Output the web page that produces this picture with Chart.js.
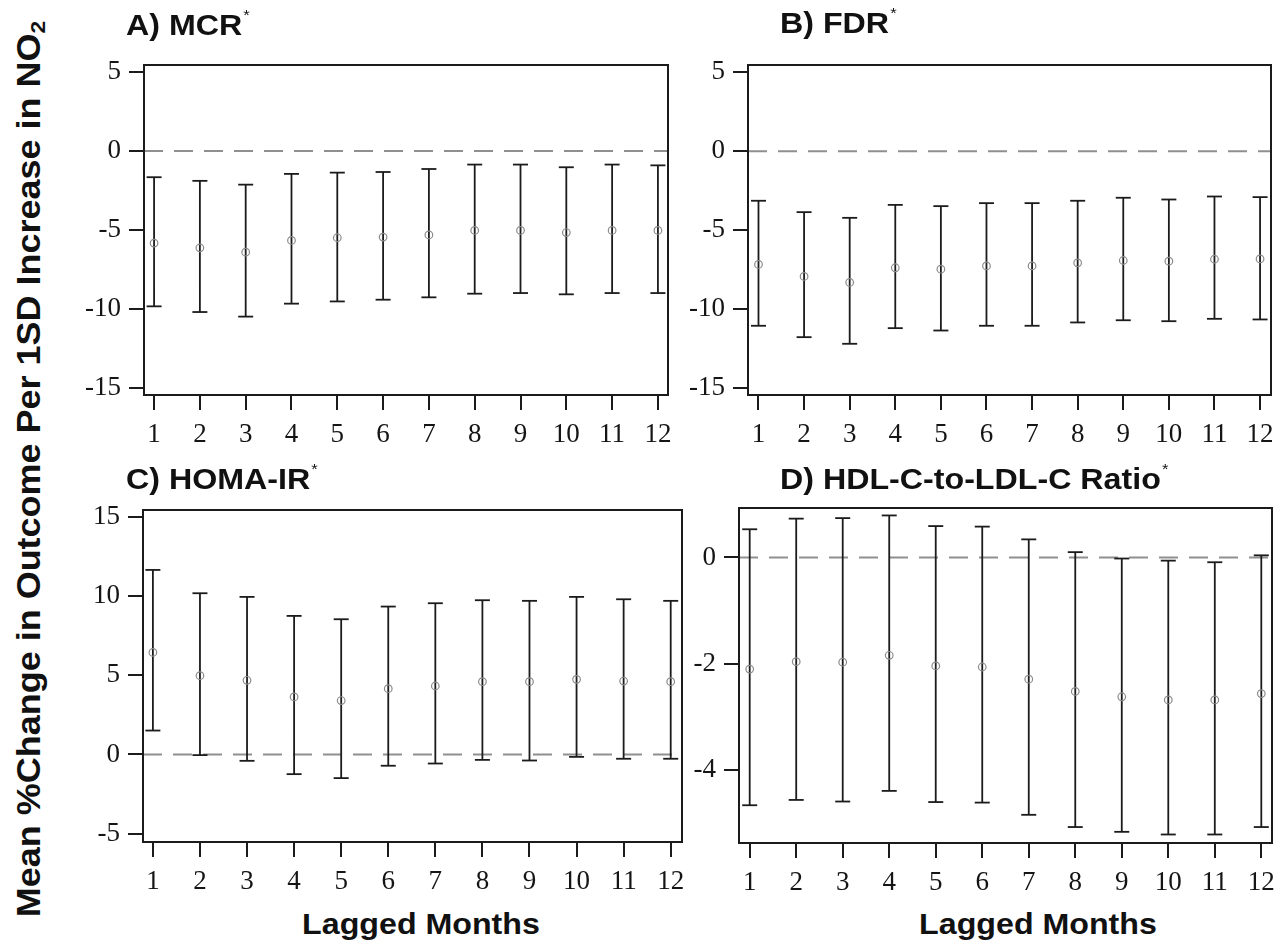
<!DOCTYPE html>
<html>
<head>
<meta charset="utf-8">
<title>Lagged NO2 associations</title>
<script src="https://cdn.jsdelivr.net/npm/chart.js@4.4.1/dist/chart.umd.min.js"></script>
<style>
  html, body { margin: 0; padding: 0; background: #ffffff; }
  body { width: 1288px; height: 945px; position: relative; overflow: hidden; }
  .panel { position: absolute; }
  .panel canvas { display: block; }
  .txt {
    position: absolute;
    font-family: "Liberation Sans", Arial, sans-serif;
    font-weight: bold;
    color: #111;
    white-space: nowrap;
    line-height: 1;
    z-index: 5;
  }
  .title { font-size: 29px; transform-origin: 0 0; transform: scaleX(1.11); }
  .title sup { font-size: 15px; font-weight: normal; vertical-align: top; position: relative; top: -4px; margin-left: 1px; }
  .xtitle { font-size: 29px; transform-origin: 50% 0; transform: translateX(-50%) scaleX(1.11); }
  #ytitle { font-size: 33px; transform-origin: 50% 50%; transform: translate(-50%, -50%) rotate(-90deg) scaleX(1.09); }
  #ytitle sub { font-size: 21px; vertical-align: -5px; }
</style>
</head>
<body>

<div class="txt" id="ytitle" style="left:30px; top:469px;">Mean %Change in Outcome Per 1SD Increase in NO<sub>2</sub></div>

<div class="txt title" style="left:126px; top:11px;">A) MCR<sup>*</sup></div>
<div class="txt title" style="left:780px; top:9px;">B) FDR<sup>*</sup></div>
<div class="txt title" style="left:126px; top:465px;">C) HOMA-IR<sup>*</sup></div>
<div class="txt title" style="left:780px; top:465px;">D) HDL-C-to-LDL-C Ratio<sup>*</sup></div>

<div class="txt xtitle" style="left:421px; top:910px;">Lagged Months</div>
<div class="txt xtitle" style="left:1038px; top:910px;">Lagged Months</div>

<div class="panel" style="left:64px; top:35px;"><canvas id="chartA" width="624" height="410"></canvas></div>
<div class="panel" style="left:668px; top:35px;"><canvas id="chartB" width="623" height="410"></canvas></div>
<div class="panel" style="left:63px; top:480px;"><canvas id="chartC" width="639" height="412"></canvas></div>
<div class="panel" style="left:659px; top:478px;"><canvas id="chartD" width="633" height="415"></canvas></div>

<script>
// Lag (months) on the x axis
const months = [1, 2, 3, 4, 5, 6, 7, 8, 9, 10, 11, 12];

// Tick values for each y axis
const yTicksMCR = [-15, -10, -5, 0, 5];
const yTicksFDR = [-15, -10, -5, 0, 5];
const yTicksHOMA = [-5, 0, 5, 10, 15];
const yTicksHDL = [-4, -2, 0];

// A) MCR: mean % change and 95% CI
const mcrMean  = [-5.83, -6.13, -6.40, -5.66, -5.49, -5.45, -5.31, -5.03, -5.03, -5.16, -5.03, -5.03];
const mcrLower = [-9.83, -10.19, -10.48, -9.66, -9.52, -9.41, -9.26, -9.03, -8.99, -9.07, -8.99, -8.99];
const mcrUpper = [-1.66, -1.89, -2.13, -1.45, -1.37, -1.33, -1.14, -0.86, -0.86, -1.03, -0.86, -0.91];

// B) FDR
const fdrMean  = [-7.17, -7.93, -8.31, -7.38, -7.47, -7.26, -7.26, -7.07, -6.92, -6.96, -6.84, -6.82];
const fdrLower = [-11.05, -11.77, -12.19, -11.20, -11.35, -11.05, -11.05, -10.84, -10.70, -10.76, -10.61, -10.65];
const fdrUpper = [-3.14, -3.86, -4.22, -3.40, -3.48, -3.29, -3.29, -3.14, -2.95, -3.06, -2.87, -2.91];

// C) HOMA-IR
const homaMean  = [6.44, 4.97, 4.68, 3.63, 3.40, 4.15, 4.32, 4.59, 4.59, 4.74, 4.63, 4.59];
const homaLower = [1.51, -0.04, -0.40, -1.24, -1.49, -0.71, -0.57, -0.34, -0.38, -0.15, -0.27, -0.27];
const homaUpper = [11.64, 10.17, 9.94, 8.74, 8.53, 9.33, 9.54, 9.73, 9.69, 9.94, 9.79, 9.69];

// D) HDL-C-to-LDL-C ratio
const hdlMean  = [-2.10, -1.96, -1.97, -1.84, -2.04, -2.06, -2.29, -2.52, -2.62, -2.68, -2.68, -2.56];
const hdlLower = [-4.66, -4.56, -4.59, -4.39, -4.60, -4.61, -4.84, -5.07, -5.16, -5.21, -5.21, -5.07];
const hdlUpper = [0.53, 0.73, 0.74, 0.79, 0.59, 0.58, 0.34, 0.10, -0.02, -0.06, -0.09, 0.04];

const INK = '#1b1b1b';
const REF_GREY = '#8f8f8f';
const POINT_GREY = '#8a8a8a';
const tickFont = { family: '"Liberation Serif", "Times New Roman", serif', size: 27 };

// Outline the plotting area on all four sides
const frameBox = {
  id: 'frameBox',
  afterDraw(chart) {
    const { ctx, chartArea: a } = chart;
    ctx.save();
    ctx.strokeStyle = INK;
    ctx.lineWidth = 2;
    ctx.strokeRect(a.left, a.top, a.right - a.left, a.bottom - a.top);
    ctx.restore();
  }
};

function errorBarChart(id, mean, lower, upper, yTicks, xMin, xMax, yMin, yMax) {
  // vertical CI stems, separated by null gaps
  const stems = [];
  months.forEach((m, i) => {
    stems.push({ x: m, y: lower[i] }, { x: m, y: upper[i] }, { x: m, y: null });
  });

  const axisGrid = { drawOnChartArea: false, drawTicks: true, tickLength: 15, color: INK, lineWidth: 2 };

  return new Chart(document.getElementById(id), {
    type: 'scatter',
    data: {
      datasets: [
        { // reference line at zero
          data: [{ x: xMin, y: 0 }, { x: xMax, y: 0 }],
          showLine: true, borderColor: REF_GREY, borderWidth: 2, borderDash: [19, 11],
          pointRadius: 0, order: 4
        },
        { // CI stems
          data: stems,
          showLine: true, spanGaps: false, borderColor: INK, borderWidth: 1.8,
          pointRadius: 0, order: 3
        },
        { // upper caps
          data: months.map((m, i) => ({ x: m, y: upper[i] })),
          showLine: false, pointStyle: 'line', pointRadius: 7.5,
          borderColor: INK, pointBorderColor: INK, pointBorderWidth: 1.8, order: 2
        },
        { // lower caps
          data: months.map((m, i) => ({ x: m, y: lower[i] })),
          showLine: false, pointStyle: 'line', pointRadius: 7.5,
          borderColor: INK, pointBorderColor: INK, pointBorderWidth: 1.8, order: 2
        },
        { // point estimates
          data: months.map((m, i) => ({ x: m, y: mean[i] })),
          showLine: false, pointStyle: 'circle', pointRadius: 3.8,
          pointBorderColor: POINT_GREY, pointBackgroundColor: 'rgba(255,255,255,0)',
          pointBorderWidth: 1.2, order: 1
        }
      ]
    },
    options: {
      responsive: false,
      animation: false,
      events: [],
      layout: { padding: { top: 30, right: 20, bottom: 0, left: 0 } },
      plugins: { legend: { display: false }, tooltip: { enabled: false } },
      scales: {
        x: {
          type: 'linear', position: 'bottom', min: xMin, max: xMax,
          afterBuildTicks: s => { s.ticks = months.map(v => ({ value: v })); },
          afterFit: s => { s.height = 50; },
          grid: axisGrid,
          border: { display: false },
          ticks: { font: tickFont, color: '#151515', padding: 9, autoSkip: false, maxRotation: 0,
                   callback: v => String(v) }
        },
        y: {
          type: 'linear', position: 'left', min: yMin, max: yMax,
          afterBuildTicks: s => { s.ticks = yTicks.map(v => ({ value: v })); },
          afterFit: s => { s.width = 80; },
          grid: axisGrid,
          border: { display: false },
          ticks: { font: tickFont, color: '#151515', padding: 8, autoSkip: false,
                   callback: v => String(v) }
        }
      }
    },
    plugins: [frameBox]
  });
}

errorBarChart('chartA', mcrMean, mcrLower, mcrUpper, yTicksMCR, 0.78, 12.22, -15.44, 5.44);
errorBarChart('chartB', fdrMean, fdrLower, fdrUpper, yTicksFDR, 0.77, 12.24, -15.43, 5.45);
errorBarChart('chartC', homaMean, homaLower, homaUpper, yTicksHOMA, 0.79, 12.24, -5.52, 15.42);
errorBarChart('chartD', hdlMean, hdlLower, hdlUpper, yTicksHDL, 0.77, 12.23, -5.37, 0.93);
</script>
</body>
</html>
